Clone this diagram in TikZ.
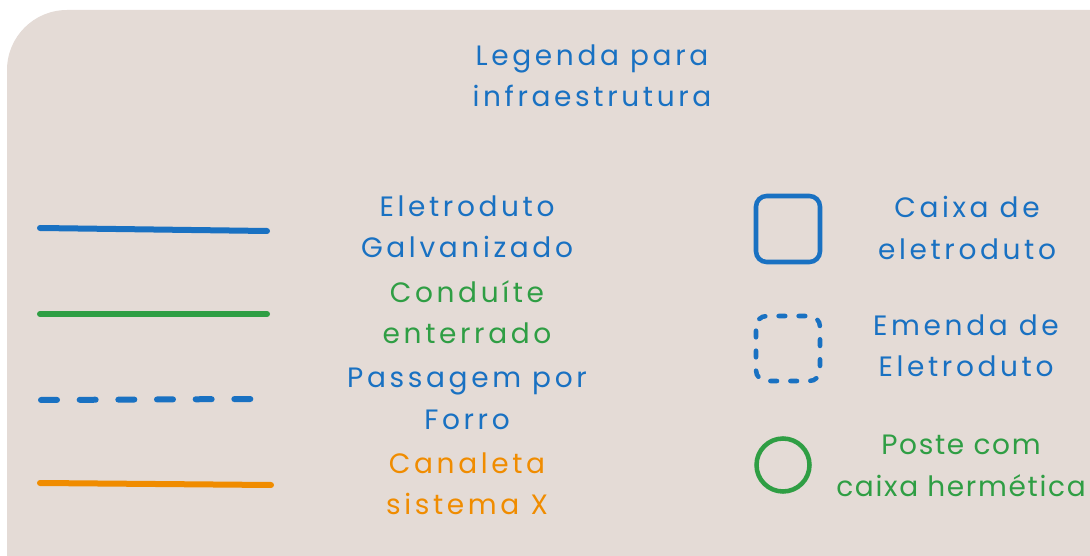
\documentclass[tikz,border=0pt]{standalone}
\usepackage{fontspec}
\setmainfont{Poppins}[LetterSpace=13]
\newfontfamily\tightfont{Poppins}[LetterSpace=6]
\definecolor{bgc}{HTML}{E4DBD6}
\definecolor{eblue}{HTML}{1971C2}
\definecolor{egreen}{HTML}{2F9E44}
\definecolor{eorange}{HTML}{F08C00}
\tikzset{
  lbl/.style={align=center, font=\fontsize{21pt}{31pt}\selectfont, inner sep=0pt},
  legline/.style={line width=4.5pt, line cap=round},
  symline/.style={line width=3.4pt},
}
\begin{document}
\begin{tikzpicture}[x=0.75pt,y=-0.75pt]
\useasboundingbox (0,0) rectangle (1090,556);
\clip (0,0) rectangle (1090,556);
\fill[bgc, rounded corners=45pt] (7,10) rectangle (1160,620);
% title
\node[lbl, text=eblue] (title) at (592,76) {Legenda para\\infraestrutura};
% line samples
\coordinate (b1) at (40,228); \coordinate (b2) at (267,231);
\coordinate (g1) at (40,314); \coordinate (g2) at (267,314);
\coordinate (d1) at (41,400); \coordinate (d2) at (252,399);
\coordinate (o1) at (40,483); \coordinate (o2) at (271,485);
\draw[legline, eblue] (b1) -- (b2);
\draw[legline, egreen] (g1) -- (g2);
\draw[legline, eblue, dash pattern=on 12pt off 17pt] (d1) -- (d2);
\draw[legline, eorange] (o1) -- (o2);
% left labels
\node[lbl, text=eblue] (lb) at (467,227) {Eletroduto\\Galvanizado};
\node[lbl, text=egreen] (lg) at (467,312) {Conduíte\\enterrado};
\node[lbl, text=eblue] (ld) at (467,399) {Passagem por\\Forro};
\node[lbl, text=eorange] (lo) at (467,484) {Canaleta\\sistema X};
% symbols
\draw[eblue, symline, rounded corners=8pt] (756,196) rectangle (820,262);
\node[inner sep=0pt] (box) at (788,229) {};
\draw[eblue, symline, line cap=round, dash pattern=on 5pt off 10pt, dash phase=-3pt, rounded corners=8pt] (756,316) rectangle (820,381);
\node[inner sep=0pt] (dbox) at (788,348) {};
\draw[egreen, symline] (783,465) circle[radius=26.5];
\node[inner sep=0pt] (circ) at (783,465) {};
% right labels
\node[lbl, text=eblue] (rb) at (967,228) {Caixa de\\eletroduto};
\node[lbl, text=eblue] (rd) at (966,346) {Emenda de\\Eletroduto};
\node[lbl, text=egreen, font=\tightfont\fontsize{21pt}{31pt}\selectfont] (rc) at (961,466) {Poste com\\caixa hermética};
\end{tikzpicture}
\end{document}
